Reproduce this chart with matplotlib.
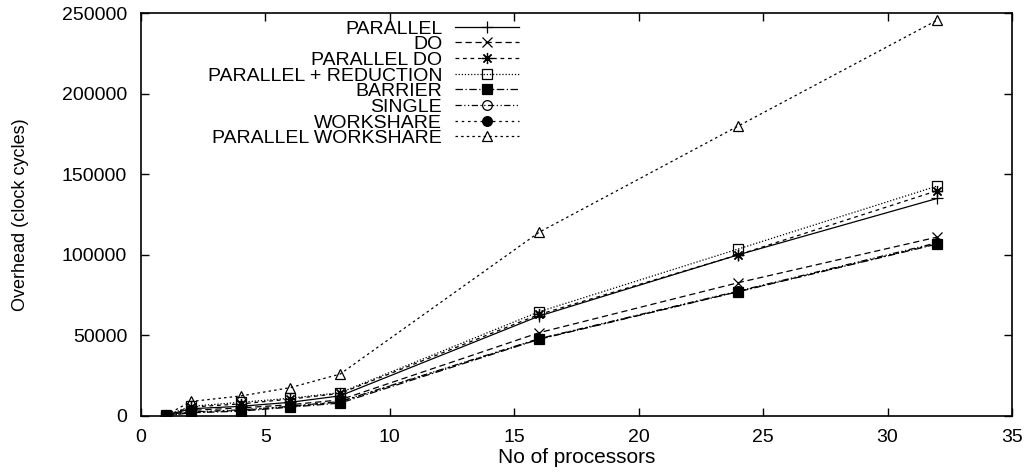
import matplotlib
matplotlib.use("Agg")
import matplotlib.pyplot as plt

plt.rcParams['font.family'] = ['Liberation Sans', 'DejaVu Sans']

procs = [1, 2, 4, 6, 8, 16, 24, 32]

series_names = ["PARALLEL", "DO", "PARALLEL DO", "PARALLEL + REDUCTION",
                "BARRIER", "SINGLE", "WORKSHARE", "PARALLEL WORKSHARE"]

parallel = [300, 4500, 6000, 8500, 12500, 62000, 100000, 135000]
do_ = [200, 3500, 5000, 7000, 10000, 51700, 82700, 111000]
parallel_do = [350, 5500, 7500, 10500, 14000, 63000, 100000, 139800]
parallel_reduction = [400, 6000, 8500, 11000, 14500, 64700, 103600, 142700]
barrier = [100, 2000, 3000, 5500, 8000, 47600, 77100, 106700]
single = [150, 2500, 3800, 6000, 9000, 48000, 77500, 107500]
workshare = [150, 2200, 3500, 5800, 8800, 47800, 77200, 107000]
parallel_workshare = [500, 9000, 12400, 17600, 26000, 114000, 179900, 245600]

all_series = [parallel, do_, parallel_do, parallel_reduction,
              barrier, single, workshare, parallel_workshare]

styles = [
    dict(linestyle='-', marker='+', mfc='none', ms=8),
    dict(linestyle=(0, (5, 3)), marker='x', mfc='none', ms=7),
    dict(linestyle=(0, (3, 3)), marker=(8, 2, 0), mfc='none', ms=8),
    dict(linestyle=(0, (1, 1.5)), marker='s', mfc='none', ms=7),
    dict(linestyle=(0, (6, 2, 1, 2)), marker='s', mfc='black', ms=7),
    dict(linestyle=(0, (5, 2, 1, 2, 1, 2)), marker='o', mfc='none', ms=7),
    dict(linestyle=(0, (2, 3)), marker='o', mfc='black', ms=7),
    dict(linestyle=(0, (2, 2.5)), marker='^', mfc='none', ms=7),
]

fig = plt.figure(figsize=(10.33, 4.72), dpi=100)
ax = fig.add_axes([141 / 1033, 1 - 416 / 472, (1012 - 141) / 1033, (416 - 13) / 472])

for name, vals, st in zip(series_names, all_series, styles):
    ax.plot(procs, vals, color='black', lw=0.9, mec='black', mew=0.9,
            label=name, **st)

ax.set_xlim(0, 35)
ax.set_ylim(0, 250000)
ax.set_xticks(range(0, 36, 5))
ax.set_yticks(range(0, 250001, 50000))
ax.tick_params(direction='in', top=True, right=True, labelsize=14, length=6, width=1)
ax.tick_params(axis='y', pad=10)
ax.tick_params(axis='x', pad=9)
for s in ax.spines.values():
    s.set_linewidth(1.2)
ax.set_xlabel("No of processors", fontsize=15, labelpad=2)
ax.set_ylabel("Overhead (clock cycles)", fontsize=13, labelpad=24)

leg = ax.legend(loc='upper right', bbox_to_anchor=(519 / 1033, 1 - 20 / 472),
                bbox_transform=fig.transFigure, markerfirst=False,
                frameon=False, fontsize=14, handlelength=3.3, labelspacing=-0.1,
                borderaxespad=0.0, borderpad=0.0, handletextpad=0.65)

fig.savefig("out.png", dpi=100)
